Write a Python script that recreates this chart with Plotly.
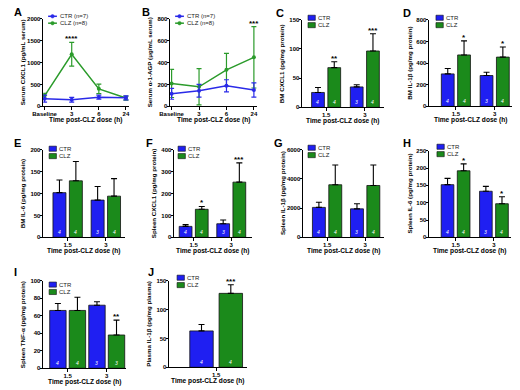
import plotly.graph_objects as go

W, H = 520, 390
FONT = "Liberation Sans, Arial, Helvetica, sans-serif"
BLUE = "#1f1ff2"
GREEN = "#1b8a1b"
BLUE_LINE = "#2a2ae8"
GREEN_LINE = "#2b9b2b"

# ---------------- data ----------------
time_labels = ["Baseline", "3", "6", "24"]
dose_labels = ["1.5", "3"]
dose_labels_j = ["1.5"]

# A: Serum CXCL1
a_ctr = [175, 150, 210, 195]
a_ctr_err = [80, 55, 45, 45]
a_clz = [240, 1190, 400, 190]
a_clz_err = [55, 270, 110, 45]
a_stars = ["", "****", "", ""]

# B: Serum alpha-1-AGP
b_ctr = [115, 143, 188, 149]
b_ctr_err = [50, 58, 55, 65]
b_clz = [209, 179, 334, 448]
b_clz_err = [128, 165, 150, 280]
b_stars = ["", "", "", "***"]

# C: BM CXCL1
c_ctr = [25.5, 35]
c_ctr_err = [8.5, 3.6]
c_clz = [68, 96.5]
c_clz_err = [10, 29.5]
c_stars = ["**", "***"]
c_n_ctr = ["4", "3"]
c_n_clz = ["4", "4"]

# D: BM IL-1b
d_ctr = [300, 285]
d_ctr_err = [50, 30]
d_clz = [475, 455]
d_clz_err = [130, 93]
d_stars = ["*", "*"]
d_n_ctr = ["4", "3"]
d_n_clz = ["4", "4"]

# E: BM IL-6
e_ctr = [102, 85]
e_ctr_err = [29, 31]
e_clz = [129, 94]
e_clz_err = [44, 40]
e_stars = ["", ""]
e_n_ctr = ["4", "3"]
e_n_clz = ["4", "4"]

# F: Spleen CXCL1
f_ctr = [50, 62]
f_ctr_err = [8, 17]
f_clz = [128, 252]
f_clz_err = [13, 88]
f_stars = ["*", "***"]
f_n_ctr = ["4", "3"]
f_n_clz = ["4", "4"]

# G: Spleen IL-1b
g_ctr = [2050, 1950]
g_ctr_err = [350, 350]
g_clz = [3600, 3550]
g_clz_err = [1350, 1400]
g_stars = ["", ""]
g_n_ctr = ["4", "3"]
g_n_clz = ["4", "4"]

# H: Spleen IL-6
h_ctr = [152, 133]
h_ctr_err = [18, 14]
h_clz = [192, 97]
h_clz_err = [20, 20]
h_stars = ["*", "*"]
h_n_ctr = ["4", "3"]
h_n_clz = ["4", "4"]

# I: Spleen TNF-a
i_ctr = [66, 72]
i_ctr_err = [8, 4]
i_clz = [66, 38]
i_clz_err = [15, 17]
i_stars = ["", "**"]
i_n_ctr = ["4", "3"]
i_n_clz = ["4", "3"]

# J: Plasma IL-1b
j_ctr = [63]
j_ctr_err = [11]
j_clz = [128]
j_clz_err = [15]
j_stars = ["***"]
j_n_ctr = ["4"]
j_n_clz = ["4"]

# ---------------- figure ----------------
fig = go.Figure()
annotations = []
shapes = []

AX = dict(showline=True, linecolor="black", linewidth=1.2, ticks="outside",
          ticklen=2.5, tickwidth=1.2, tickcolor="black", showgrid=False,
          zeroline=False, fixedrange=True,
          tickfont=dict(family=FONT, size=6, color="black", weight="bold"))


def names(idx):
    s = "" if idx == 1 else str(idx)
    return "x" + s, "y" + s, "xaxis" + s, "yaxis" + s


def setup_axes(idx, box, xrange, yrange, ytick, xtickvals, xticktext, ytitle, letter, letter_pos):
    xn, yn, xa, ya = names(idx)
    x0, x1, yt, yb = box
    fig.update_layout({
        xa: dict(domain=[x0 / W, x1 / W], range=xrange, anchor=yn,
                 tickvals=xtickvals, ticktext=xticktext, ticklabelstandoff=-1, **AX),
        ya: dict(domain=[1 - yb / H, 1 - yt / H], range=yrange, anchor=xn,
                 tickvals=ytick, ticklabelstandoff=-2, **AX),
    })
    annotations.append(dict(text=ytitle, xref="paper", yref="paper",
                            x=(x0 - 21) / W, y=1 - (yt + yb) / 2 / H,
                            xanchor="center", yanchor="middle",
                            textangle=-90, showarrow=False,
                            font=dict(family=FONT, size=6.2, color="black", weight="bold")))
    annotations.append(dict(text="Time post-CLZ dose (h)", xref="paper", yref="paper",
                            x=(x0 + x1) / 2 / W, y=1 - (yb + 14) / H,
                            xanchor="center", yanchor="middle", showarrow=False,
                            font=dict(family=FONT, size=6.6, color="black", weight="bold")))
    annotations.append(dict(text=letter, xref="paper", yref="paper",
                            x=letter_pos[0] / W, y=1 - letter_pos[1] / H,
                            xanchor="left", yanchor="top", showarrow=False,
                            font=dict(family=FONT, size=11, color="black", weight="bold")))
    return xn, yn


def legend_text(text, x, y):
    annotations.append(dict(text=text, xref="paper", yref="paper", x=x / W, y=1 - y / H,
                            xanchor="left", yanchor="middle", showarrow=False,
                            font=dict(family=FONT, size=6, color="#222222")))


def bar_legend(sx, sy):
    for k, (name, color) in enumerate([("CTR", BLUE), ("CLZ", GREEN)]):
        yc = sy + 7.5 * k
        shapes.append(dict(type="rect", xref="paper", yref="paper",
                           x0=sx / W, x1=(sx + 7.5) / W,
                           y0=1 - (yc + 2.6) / H, y1=1 - (yc - 2.6) / H,
                           fillcolor=color, line=dict(color="#111111", width=0.6)))
        legend_text(name, sx + 8.5, yc)


def line_legend(sx, sy, labels):
    for k, (name, color) in enumerate(zip(labels, [BLUE_LINE, GREEN_LINE])):
        yc = sy + 7 * k
        shapes.append(dict(type="line", xref="paper", yref="paper",
                           x0=sx / W, x1=(sx + 9) / W, y0=1 - yc / H, y1=1 - yc / H,
                           line=dict(color=color, width=1.5)))
        shapes.append(dict(type="circle", xref="paper", yref="paper",
                           x0=(sx + 2.7) / W, x1=(sx + 6.3) / W,
                           y0=1 - (yc + 1.8) / H, y1=1 - (yc - 1.8) / H,
                           fillcolor=color, line=dict(color=color, width=0.5)))
        legend_text(name, sx + 10.5, yc)


def line_panel(idx, box, yrange, ytick, ytitle, letter, letter_pos,
               ctr, ctr_err, clz, clz_err, stars, leg_pos):
    xn, yn = setup_axes(idx, box, [-0.05, 3.12], yrange, ytick,
                        list(range(len(time_labels))), time_labels, ytitle, letter, letter_pos)
    xs = list(range(len(time_labels)))
    for vals, errs, color in [(clz, clz_err, GREEN_LINE), (ctr, ctr_err, BLUE_LINE)]:
        fig.add_trace(go.Scatter(x=xs, y=vals, xaxis=xn, yaxis=yn, mode="lines+markers",
                                 line=dict(color=color, width=1.5),
                                 marker=dict(color=color, size=4),
                                 error_y=dict(type="data", array=errs, color=color,
                                              thickness=1.2, width=2.5),
                                 showlegend=False, cliponaxis=False))
    for i, s in enumerate(stars):
        if s:
            annotations.append(dict(text=s, xref=xn, yref=yn, x=xs[i], y=clz[i] + clz_err[i],
                                    yanchor="bottom", yshift=-3, showarrow=False,
                                    font=dict(family=FONT, size=8, color="black", weight="bold")))
    line_legend(leg_pos[0], leg_pos[1], ["CTR (n=7)", "CLZ (n=8)"])


def bar_panel(idx, box, xrange, yrange, ytick, ytitle, letter, letter_pos,
              cats, ctr, ctr_err, clz, clz_err, stars, n_ctr, n_clz, bw, off, leg_pos):
    xs = list(range(len(cats)))
    xn, yn = setup_axes(idx, box, xrange, yrange, ytick, xs, cats, ytitle, letter, letter_pos)
    for vals, errs, color, sign, ns in [(ctr, ctr_err, BLUE, -1, n_ctr), (clz, clz_err, GREEN, 1, n_clz)]:
        bx = [x + sign * off for x in xs]
        fig.add_trace(go.Bar(x=bx, y=vals, width=bw, xaxis=xn, yaxis=yn,
                             marker=dict(color=color, line=dict(color="#111111", width=0.8)),
                             error_y=dict(type="data", array=errs, arrayminus=[0] * len(errs),
                                          symmetric=False, color="black", thickness=1.1, width=3),
                             showlegend=False))
        for x, n in zip(bx, ns):
            annotations.append(dict(text="<i>" + n + "</i>", xref=xn, yref=yn, x=x, y=0,
                                    yanchor="bottom", yshift=0, showarrow=False,
                                    font=dict(family=FONT, size=5, color="white")))
    for i, s in enumerate(stars):
        if s:
            annotations.append(dict(text=s, xref=xn, yref=yn, x=xs[i] + off, y=clz[i] + clz_err[i],
                                    yanchor="bottom", yshift=-3, showarrow=False,
                                    font=dict(family=FONT, size=8, color="black", weight="bold")))
    bar_legend(box[0] + leg_pos[0], leg_pos[1])


line_panel(1, (33, 121, 16, 105), [0, 2000], [0, 500, 1000, 1500, 2000],
           "Serum CXCL1 (pg/mL serum)", "A", (1, 1),
           a_ctr, a_ctr_err, a_clz, a_clz_err, a_stars, (38, 13.5))
line_panel(2, (163, 252, 16, 105), [0, 800], [0, 200, 400, 600, 800],
           "Serum α-1-AGP (μg/mL serum)", "B", (132, 1),
           b_ctr, b_ctr_err, b_clz, b_clz_err, b_stars, (168, 13.5))

bar_panel(3, (298, 382, 17, 106), [-0.62, 1.5], [0, 150], [0, 50, 100, 150],
          "BM CXCL1 (pg/mg protein)", "C", (269, 2), dose_labels,
          c_ctr, c_ctr_err, c_clz, c_clz_err, c_stars, c_n_ctr, c_n_clz, 0.33, 0.21, (6, 15))
bar_panel(4, (428, 513, 17, 105), [-0.69, 1.45], [0, 800], [0, 200, 400, 600, 800],
          "BM IL-1β (pg/mg protein)", "D", (399, 2), dose_labels,
          d_ctr, d_ctr_err, d_clz, d_clz_err, d_stars, d_n_ctr, d_n_clz, 0.33, 0.21, (7, 15))
bar_panel(5, (33, 117, 149, 238), [-0.64, 1.51], [0, 200], [0, 50, 100, 150, 200],
          "BM IL-6 (pg/mg protein)", "E", (1, 134), dose_labels,
          e_ctr, e_ctr_err, e_clz, e_clz_err, e_stars, e_n_ctr, e_n_clz, 0.34, 0.215, (6, 148))
bar_panel(6, (167, 247, 149, 238), [-0.52, 1.56], [0, 400], [0, 100, 200, 300, 400],
          "Spleen CXCL1 (pg/mg protein)", "F", (136, 134), dose_labels,
          f_ctr, f_ctr_err, f_clz, f_clz_err, f_stars, f_n_ctr, f_n_clz, 0.34, 0.215, (4, 148))
bar_panel(7, (299, 382, 149, 238), [-0.63, 1.5], [0, 6000], [0, 2000, 4000, 6000],
          "Spleen IL-1β (pg/mg protein)", "G", (267, 134), dose_labels,
          g_ctr, g_ctr_err, g_clz, g_clz_err, g_stars, g_n_ctr, g_n_clz, 0.34, 0.215, (5, 147))
bar_panel(8, (428, 512, 150, 238), [-0.69, 1.45], [0, 250], [0, 50, 100, 150, 200, 250],
          "Spleen IL-6 (pg/mg protein)", "H", (399, 134), dose_labels,
          h_ctr, h_ctr_err, h_clz, h_clz_err, h_stars, h_n_ctr, h_n_clz, 0.33, 0.21, (8, 146))
bar_panel(9, (33, 118, 282, 371), [-0.625, 1.5], [0, 100], [0, 20, 40, 60, 80, 100],
          "Spleen TNF-α (pg/mg protein)", "I", (1, 265), dose_labels,
          i_ctr, i_ctr_err, i_clz, i_clz_err, i_stars, i_n_ctr, i_n_clz, 0.42, 0.25, (6, 286))
bar_panel(10, (162, 242, 282, 370), [-1.2, 0.8], [0, 150], [0, 50, 100, 150],
          "Plasma IL-1β (pg/mg plasma)", "J", (138, 265), dose_labels_j,
          j_ctr, j_ctr_err, j_clz, j_clz_err, j_stars, j_n_ctr, j_n_clz, 0.6, 0.375, (8, 279))

fig.update_layout(width=W, height=H, margin=dict(l=0, r=0, t=0, b=0),
                  paper_bgcolor="white", plot_bgcolor="white",
                  barmode="overlay", showlegend=False,
                  annotations=annotations, shapes=shapes,
                  font=dict(family=FONT, size=6, color="black"))

fig.write_html("out.html", config={"displayModeBar": False, "responsive": False},
               post_script="document.body.style.margin='0';document.body.style.padding='0';"
                           "document.documentElement.style.overflow='hidden';")
